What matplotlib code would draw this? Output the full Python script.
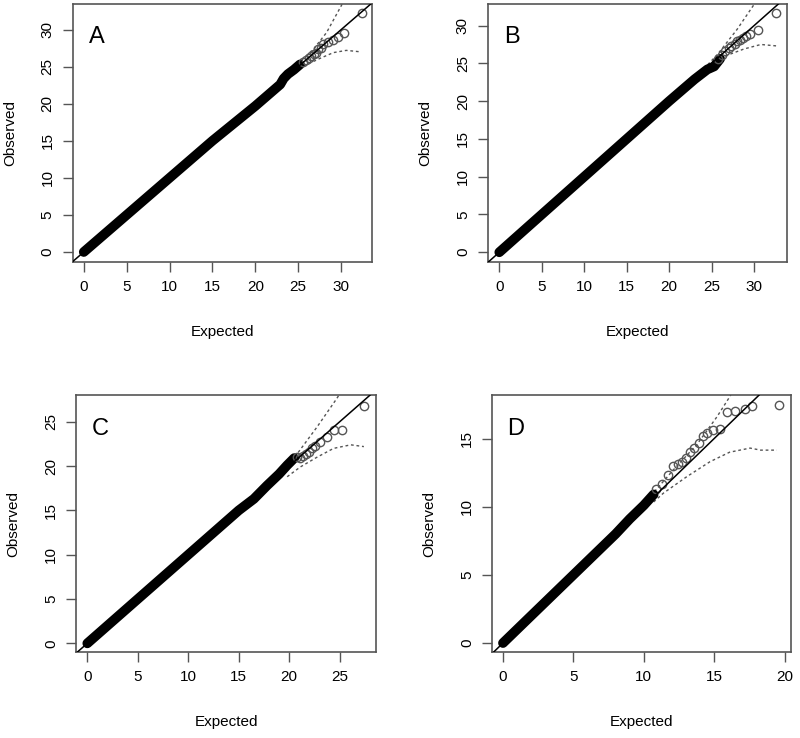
import matplotlib
matplotlib.use("Agg")
import matplotlib.pyplot as plt

plt.rcParams['font.family'] = ['Liberation Sans', 'DejaVu Sans']

# Panel labels and axis limits / ticks (R style, 4% padding)
panels = ['A', 'B', 'C', 'D']
xlims = [(-1.28, 33.6), (-1.33, 33.9), (-1.12, 28.6), (-0.78, 20.47)]
ylims = [(-1.35, 33.5), (-1.29, 32.9), (-0.98, 28.0), (-0.66, 18.18)]
xticks = [range(0, 31, 5), range(0, 31, 5), range(0, 26, 5), range(0, 21, 5)]
yticks = [range(0, 31, 5), range(0, 31, 5), range(0, 26, 5), range(0, 16, 5)]

# dense body of the QQ points (expected, observed)
band_x = [
    [0, 5, 10, 15, 20, 22.4, 22.9, 23.3, 23.8, 24.5, 25.2],
    [0, 5, 10, 15, 20, 23, 24.5, 25.3, 26.0],
    [0, 5, 10, 15, 16.5, 17.8, 19.0, 19.8, 20.5],
    [0, 3, 6, 8, 9, 10, 10.7],
]
band_y = [
    [0, 5, 10, 15, 19.7, 22.1, 22.6, 23.4, 24.0, 24.6, 25.3],
    [0, 5, 10, 15, 20, 22.9, 24.2, 24.6, 25.6],
    [0, 5, 10, 15, 16.3, 17.8, 19.1, 20.1, 20.9],
    [0, 3, 6, 8, 9.1, 10.1, 10.9],
]

# sparse tail points drawn as open circles
tail_x = [
    [25.6, 25.9, 26.2, 26.5, 26.8, 27.1, 27.3, 27.6, 27.9, 28.5, 29.0, 29.6, 30.3, 32.4],
    [25.8, 26.2, 26.6, 27.0, 27.3, 27.7, 28.0, 28.4, 28.7, 29.0, 29.5, 30.5, 32.55],
    [20.8, 21.1, 21.4, 21.7, 22.0, 22.3, 22.6, 23.1, 23.75, 24.4, 25.2, 27.4],
    [10.9, 11.3, 11.7, 12.1, 12.4, 12.7, 13.0, 13.3, 13.6, 13.9, 14.2, 14.5,
     14.95, 15.4, 15.9, 16.5, 17.2, 17.7, 19.6],
]
tail_y = [
    [25.7, 25.9, 26.2, 26.4, 26.7, 26.9, 27.4, 27.5, 28.0, 28.3, 28.6, 29.0, 29.55, 32.3],
    [25.6, 26.1, 26.6, 27.0, 27.3, 27.6, 27.9, 28.1, 28.3, 28.6, 28.9, 29.4, 31.7],
    [21.0, 20.9, 21.1, 21.4, 21.6, 22.0, 22.3, 22.7, 23.3, 24.05, 24.05, 26.75],
    [11.3, 11.7, 12.3, 13.0, 13.1, 13.3, 13.6, 14.0, 14.3, 14.7, 15.2, 15.4,
     15.6, 15.7, 16.95, 17.0, 17.2, 17.4, 17.45],
]

# confidence envelopes (dashed)
upper_x = [
    [25.4, 26.8, 28.3, 30.1, 30.5],
    [24.1, 25.7, 28.0, 30.0, 30.4],
    [19.5, 20.8, 22.75, 24.7, 25.2],
    [10.5, 12.1, 13.8, 15.2, 16.1, 16.5],
]
upper_y = [
    [25.9, 27.4, 29.6, 33.4, 34.5],
    [24.3, 26.2, 29.5, 32.8, 33.6],
    [19.6, 21.4, 24.4, 27.6, 28.5],
    [10.8, 12.7, 14.6, 16.6, 18.06, 18.8],
]
lower_x = [
    [25.6, 26.4, 27.5, 29.1, 30.6, 32.3],
    [24.5, 25.7, 26.9, 28.8, 30.8, 32.75],
    [19.8, 21.1, 22.75, 24.4, 26.1, 27.4],
    [10.7, 11.4, 13.05, 14.7, 16.1, 17.55, 18.3, 19.45],
]
lower_y = [
    [25.1, 25.5, 26.1, 26.9, 27.2, 27.0],
    [24.2, 25.2, 26.1, 26.9, 27.5, 27.3],
    [18.8, 19.9, 21.0, 22.0, 22.4, 22.2],
    [10.35, 11.0, 12.2, 13.3, 14.0, 14.3, 14.15, 14.15],
]

# axes boxes in figure fractions (left, bottom, width, height)
boxes = [
    (0.091, 0.645, 0.374, 0.350),
    (0.610, 0.645, 0.374, 0.350),
    (0.095, 0.1165, 0.375, 0.348),
    (0.615, 0.1165, 0.374, 0.348),
]

fig = plt.figure(figsize=(8, 7.38), dpi=100)
grey = '#555555'

for i in range(4):
    ax = fig.add_axes(boxes[i])
    ax.plot(band_x[i], band_y[i], color='black', lw=7, solid_capstyle='round',
            solid_joinstyle='round', zorder=3)
    ax.plot(tail_x[i], tail_y[i], 'o', mfc='none', mec=grey, ms=6, mew=1, zorder=3)
    ax.plot(upper_x[i], upper_y[i], ls=(0, (2, 2)), color=grey, lw=1, zorder=2)
    ax.plot(lower_x[i], lower_y[i], ls=(0, (2, 2)), color=grey, lw=1, zorder=2)
    ax.axline((0, 0), slope=1, color='black', lw=1.1, zorder=4)

    ax.set_xlim(*xlims[i])
    ax.set_ylim(*ylims[i])
    ax.set_xticks(list(xticks[i]))
    ax.set_yticks(list(yticks[i]))
    ax.tick_params(length=7, width=1, color=grey, labelsize=11, pad=6)
    for lab in ax.get_yticklabels():
        lab.set_rotation(90)
        lab.set_va('center')
    for s in ax.spines.values():
        s.set_color(grey)
        s.set_linewidth(1.2)

    ax.set_xlabel('Expected', fontsize=11, labelpad=22)
    ax.set_ylabel('Observed', fontsize=11, labelpad=17)
    ax.text(0.08, 0.87, panels[i], transform=ax.transAxes, fontsize=17,
            ha='center', va='center')

fig.savefig('out.png', dpi=100)
